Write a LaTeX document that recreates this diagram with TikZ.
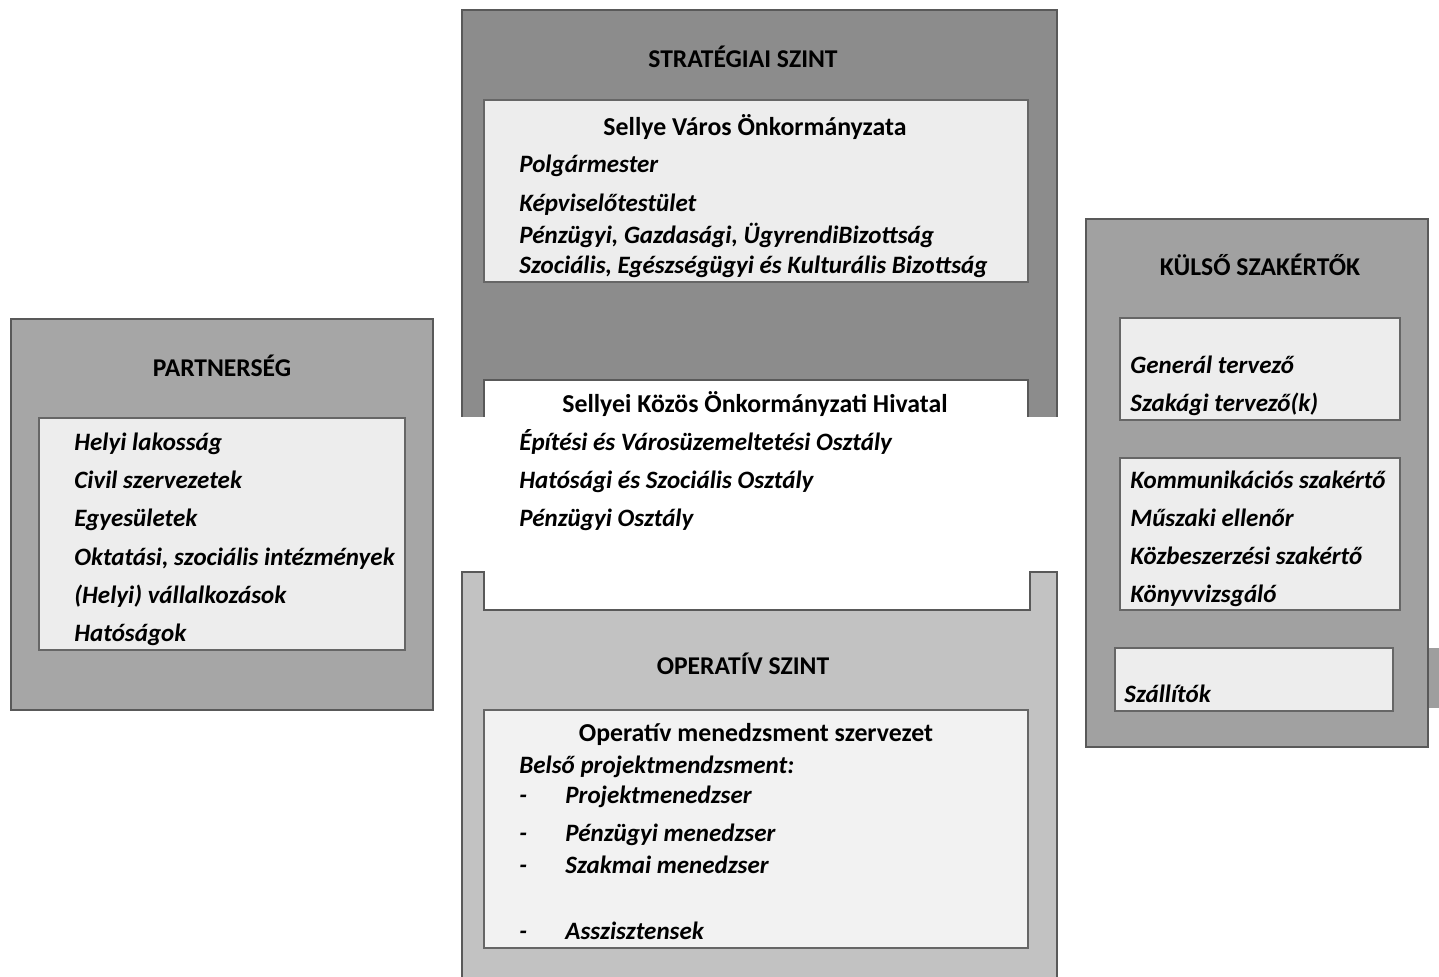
\documentclass[tikz,border=0pt]{standalone}
\usepackage{fontspec}
\setmainfont{Carlito}
\begin{document}
\begin{tikzpicture}[x=0.5pt,y=-0.5pt,
  outerbox/.style={draw=black!65,line width=1pt},
  innerbox/.style={draw=black!60,line width=0.8pt,fill=black!7},
  title/.style={font=\bfseries\fontsize{12.8}{14}\selectfont,inner sep=1pt},
  head/.style={font=\bfseries\fontsize{12.9}{14}\selectfont,inner sep=1pt},
  item/.style={font=\bfseries\itshape\fontsize{12.5}{14}\selectfont,anchor=west,inner sep=1pt,yshift=-1pt,execute at begin node=\strut}]
\useasboundingbox (0,0) rectangle (1439,977);
% ---- Strategic level
\fill[black!45] (462,10) rectangle (1057,417);
\draw[outerbox] (462,417) -- (462,10) -- (1057,10) -- (1057,417);
\draw[innerbox] (484,100) rectangle (1028,282);
\fill[white] (484,380) rectangle (1028,420);
\draw[black!65,line width=1pt] (484,417) -- (484,380) -- (1028,380) -- (1028,417);
\node[title] (strat) at (743,57) {STRATÉGIAI SZINT};
\node[head] (sellye) at (755,127) {Sellye Város Önkormányzata};
\node[item] (polg) at (517,165) {Polgármester};
\node[item] (kepv) at (517,204) {Képviselőtestület};
\node[item] (penz) at (517,236) {Pénzügyi, Gazdasági, ÜgyrendiBizottság};
\node[item] (szoc) at (517,266) {Szociális, Egészségügyi és Kulturális Bizottság};
\node[head] (hiv) at (755,404) {Sellyei Közös Önkormányzati Hivatal};
\node[item] (epit) at (517,442) {Építési és Városüzemeltetési Osztály};
\node[item] (hato) at (517,481) {Hatósági és Szociális Osztály};
\node[item] (penzo) at (517,519) {Pénzügyi Osztály};
% ---- Operative level
\fill[black!24] (462,572) rectangle (1057,990);
\fill[white] (484,572) rectangle (1030,610);
\draw[outerbox] (462,990) -- (462,572) -- (484,572) -- (484,610) -- (1030,610) -- (1030,572) -- (1057,572) -- (1057,990);
\draw[innerbox,fill=black!5] (484,710) rectangle (1028,948);
\node[title] (oper) at (743,664) {OPERATÍV SZINT};
\node[head] (omsz) at (756,734) {Operatív menedzsment szervezet};
\node[item] (belso) at (517,766) {Belső projektmendzsment:};
\node[item] (d1) at (517,796) {-};
\node[item] (pm) at (563,796) {Projektmenedzser};
\node[item] (d2) at (517,834) {-};
\node[item] (pzm) at (563,834) {Pénzügyi menedzser};
\node[item] (d3) at (517,866) {-};
\node[item] (szm) at (563,866) {Szakmai menedzser};
\node[item] (d4) at (517,932) {-};
\node[item] (assz) at (563,932) {Asszisztensek};
% ---- Partnership
\draw[outerbox,fill=black!35] (11,319) rectangle (433,710);
\draw[innerbox] (39,418) rectangle (405,650);
\node[title] (partner) at (222,366) {PARTNERSÉG};
\node[item] (p1) at (72,443) {Helyi lakosság};
\node[item] (p2) at (72,481) {Civil szervezetek};
\node[item] (p3) at (72,519) {Egyesületek};
\node[item] (p4) at (72,558) {Oktatási, szociális intézmények};
\node[item] (p5) at (72,596) {(Helyi) vállalkozások};
\node[item] (p6) at (72,634) {Hatóságok};
% ---- External experts
\fill[black!38] (1420,648) rectangle (1439,708);
\draw[outerbox,fill=black!37] (1086,219) rectangle (1428,747);
\draw[innerbox] (1120,318) rectangle (1400,420);
\draw[innerbox] (1120,458) rectangle (1400,610);
\draw[innerbox] (1115,648) rectangle (1393,711);
\node[title] (kulso) at (1260,265) {KÜLSŐ SZAKÉRTŐK};
\node[item] (k1) at (1128,366) {Generál tervező};
\node[item] (k2) at (1128,404) {Szakági tervező(k)};
\node[item] (k3) at (1128,481) {Kommunikációs szakértő};
\node[item] (k4) at (1128,519) {Műszaki ellenőr};
\node[item] (k5) at (1128,557) {Közbeszerzési szakértő};
\node[item] (k6) at (1128,595) {Könyvvizsgáló};
\node[item] (k7) at (1122,695) {Szállítók};
\end{tikzpicture}
\end{document}
